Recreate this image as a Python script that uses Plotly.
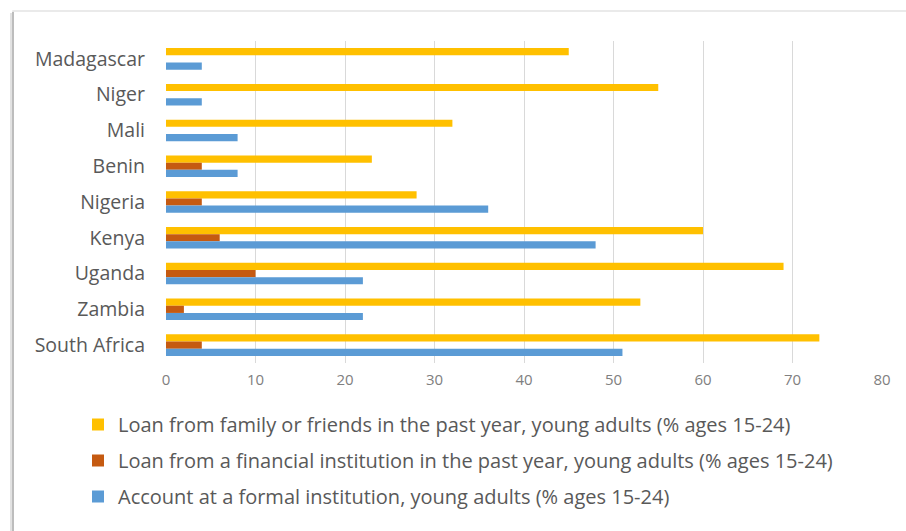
import plotly.graph_objects as go

# Youth finance indicators by country (% of ages 15-24)
countries = ["Madagascar", "Niger", "Mali", "Benin", "Nigeria",
             "Kenya", "Uganda", "Zambia", "South Africa"]
loan_family = [45, 55, 32, 23, 28, 60, 69, 53, 73]
loan_financial = [0, 0, 0, 4, 4, 6, 10, 2, 4]
formal_account = [4, 4, 8, 8, 36, 48, 22, 22, 51]

series_names = [
    "Loan from family or friends in the past year, young adults (% ages 15-24)",
    "Loan from a financial institution in the past year, young adults (% ages 15-24)",
    "Account at a formal institution, young adults (% ages 15-24)",
]
series_values = [loan_family, loan_financial, formal_account]
series_colors = ["#FFC000", "#C55A11", "#5B9BD5"]
x_ticks = [0, 10, 20, 30, 40, 50, 60, 70, 80]

W, H = 906, 531
ML, MR, MT, MB = 166, 24, 41, 168
PW, PH = W - ML - MR, H - MT - MB


def px_x(p):
    return (p - ML) / PW


def px_y(p):
    return 1 - (p - MT) / PH


FONT = "Open Sans, Arial, sans-serif"

fig = go.Figure()
for i, (name, vals, col) in enumerate(zip(series_names, series_values, series_colors)):
    fig.add_trace(go.Bar(
        y=countries, x=vals, name=name, orientation="h",
        marker=dict(color=col, line=dict(width=0)),
        legendgroup=f"g{i}",
    ))

shapes = [
    # card outline and soft left shadow
    dict(type="rect", xref="paper", yref="paper",
         x0=px_x(13), x1=px_x(W + 20), y0=px_y(11), y1=px_y(H + 20),
         line=dict(color="#E4E4E4", width=1.5), fillcolor="white", layer="below"),
    dict(type="line", xref="paper", yref="paper",
         x0=px_x(11), x1=px_x(11), y0=px_y(13), y1=px_y(H + 20),
         line=dict(color="#E2E2E2", width=2), layer="below"),
    dict(type="line", xref="paper", yref="paper",
         x0=px_x(13), x1=px_x(13), y0=px_y(12), y1=px_y(H + 20),
         line=dict(color="#BDBDBD", width=2), layer="below"),
]

fig.update_layout(
    width=W, height=H,
    margin=dict(l=ML, r=MR, t=MT, b=MB, pad=0),
    paper_bgcolor="white", plot_bgcolor="rgba(0,0,0,0)",
    barmode="group", bargap=0.397, bargroupgap=0,
    font=dict(family=FONT, color="#595959"),
    shapes=shapes,
    showlegend=True,
    legend=dict(
        x=px_x(78), y=px_y(405), xanchor="left", yanchor="top",
        orientation="v", traceorder="grouped", tracegroupgap=7,
        font=dict(family=FONT, size=20, color="#595959"),
        bgcolor="rgba(0,0,0,0)", borderwidth=0,
    ),
    xaxis=dict(
        range=[0, 80], tickvals=x_ticks, ticktext=[str(v) for v in x_ticks],
        showgrid=True, gridcolor="#D9D9D9", gridwidth=1,
        zeroline=False, showline=False,
        tickfont=dict(family=FONT, size=15, color="#808080"),
        ticks="", ticklabelstandoff=6,
    ),
    yaxis=dict(
        categoryorder="array", categoryarray=countries, autorange="reversed",
        showgrid=False, zeroline=False, showline=False,
        tickfont=dict(family=FONT, size=19.5, color="#595959"),
        ticks="", ticklabelstandoff=20,
    ),
)

fig.write_html("out.html")
